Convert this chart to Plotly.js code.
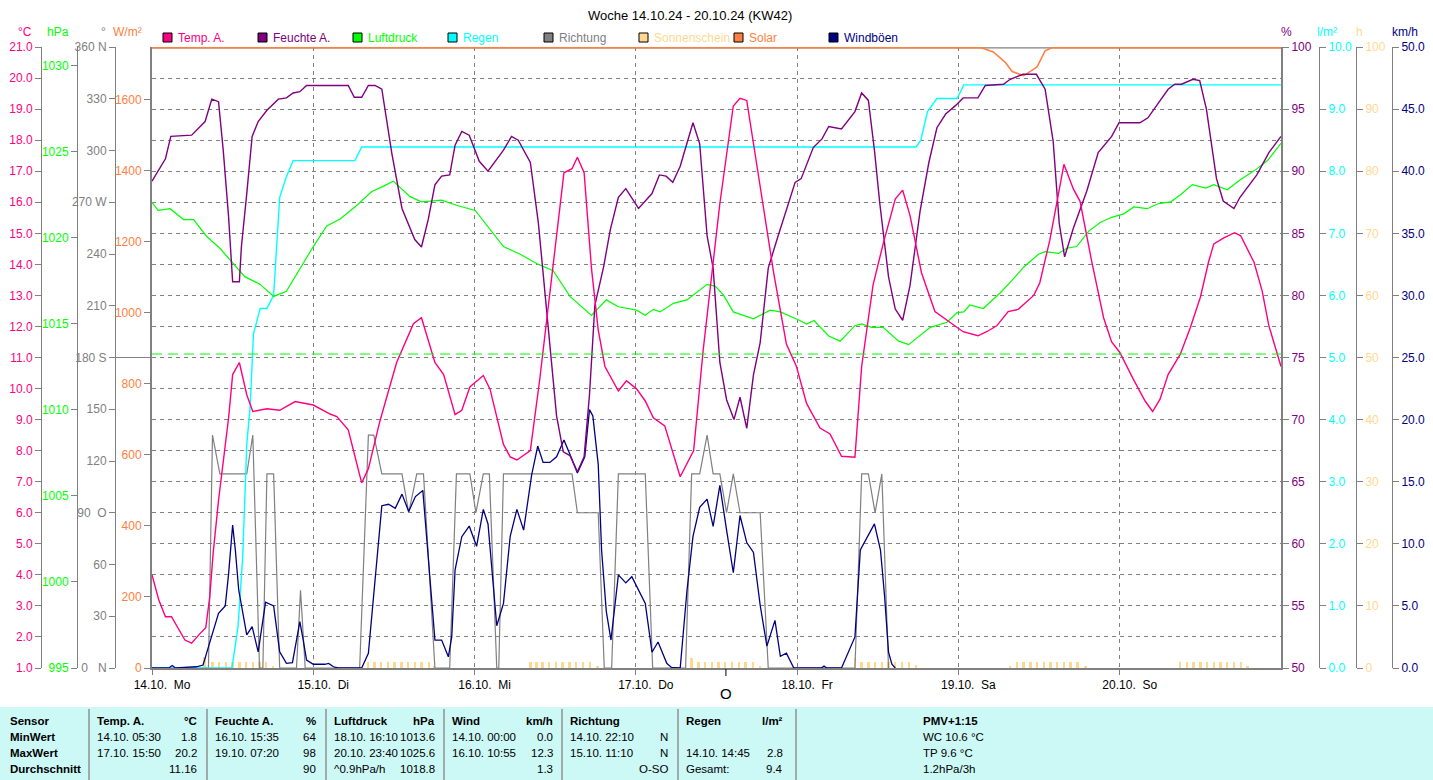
<!DOCTYPE html>
<html><head><meta charset="utf-8">
<script src="https://cdn.plot.ly/plotly-3.0.1.min.js"></script>
<style>html,body{margin:0;padding:0;background:#fff;overflow:hidden}#chart{width:1433px;height:780px}</style>
</head><body><div id="chart"></div>
<script>
// ---------------- DATA (hours since 14.10.24 00:00) ----------------
const dayTicks = [0, 24, 48, 72, 96, 120, 144];
const dayLabels = ['14.10.  Mo', '15.10.  Di', '16.10.  Mi', '17.10.  Do', '18.10.  Fr', '19.10.  Sa', '20.10.  So'];

const tempHours = [0, 1, 2, 2.9, 4.9, 5.9, 7.1, 8.0, 8.6, 9.1,
  9.9, 10.8, 11.4, 12.0, 13.0, 14.1, 15.0, 17.1, 19.0, 21.3,
  24.0, 26.5, 27.5, 29.2, 31.2, 32.2, 33.9, 36.4, 38.9, 40.1,
  42.1, 43.4, 45.1, 46.1, 47.3, 49.3, 50.3, 52.3, 53.3, 54.3,
  56.3, 57.7, 59.0, 60.0, 61.3, 62.5, 63.3, 64.3, 65.4, 66.4,
  67.4, 69.4, 70.6, 72.1, 73.4, 74.6, 76.3, 78.6, 80.6, 82.0,
  84.5, 86.5, 87.5, 88.5, 90.5, 92.5, 94.4, 95.9, 97.4, 99.4,
  100.9, 102.6, 104.6, 105.6, 107.3, 108.8, 110.6, 111.7, 112.8, 114.5,
  116.5, 118.5, 120.7, 122.9, 124.2, 125.7, 127.4, 128.9, 131.2, 132.1,
  133.6, 135.7, 137.1, 138.1, 139.8, 141.6, 142.8, 144.0, 146.0, 147.8,
  148.9, 150.0, 151.2, 153.0, 154.5, 156.0, 157.2, 158.0, 159.5, 161.1,
  162.0, 164.0, 165.2, 166.2, 168.0];
const tempValues = [4.0, 3.2, 2.65, 2.65, 1.9, 1.8, 2.1, 2.3, 3.3, 4.7,
  6.4, 8.1, 9.06, 10.45, 10.84, 9.8, 9.26, 9.35, 9.3, 9.58,
  9.47, 9.18, 9.1, 8.67, 6.96, 7.42, 8.94, 10.84, 12.09, 12.28,
  10.84, 10.45, 9.16, 9.3, 10.05, 10.42, 9.98, 8.2, 7.8, 7.7,
  8.0, 10.3, 12.7, 14.66, 16.95, 17.08, 17.45, 16.95, 13.86, 11.89,
  10.71, 9.92, 10.25, 9.99, 9.6, 9.06, 8.8, 7.16, 8.0, 11.2,
  15.96, 19.1, 19.35, 19.28, 16.5, 13.73, 11.43, 10.71, 9.52, 8.73,
  8.54, 7.82, 7.79, 10.71, 13.34, 14.66, 16.1, 16.39, 15.57, 13.73,
  12.48, 12.16, 11.83, 11.7, 11.83, 12.02, 12.48, 12.55, 13.0, 13.4,
  14.78, 17.22, 16.43, 16.03, 14.13, 12.28, 11.5, 11.17, 10.31, 9.59,
  9.26, 9.66, 10.45, 11.1, 11.96, 12.94, 14.06, 14.66, 14.85, 15.02,
  14.92, 14.06, 13.14, 12.02, 10.71];

const humHours = [0, 0.9, 2.0, 2.8, 5.9, 7.9, 8.9, 9.9, 10.6, 11.4,
  12.0, 13.0, 13.3, 14.1, 14.9, 15.8, 17.1, 18.8, 20.0, 21.0,
  22.0, 23.0, 29.2, 30.1, 31.2, 32.2, 33.2, 34.2, 35.7, 37.2,
  39.1, 40.1, 41.1, 42.1, 43.1, 44.3, 45.1, 46.1, 47.2, 48.7,
  50.0, 52.3, 53.5, 54.5, 56.3, 57.5, 59.0, 60.2, 61.2, 62.2,
  63.3, 64.3, 65.1, 65.9, 67.2, 68.2, 69.4, 70.5, 72.4, 74.4,
  75.5, 76.5, 77.5, 78.6, 80.5, 81.5, 82.6, 83.5, 84.5, 85.5,
  86.6, 87.5, 88.5, 89.5, 90.5, 91.7, 93.0, 94.4, 95.7, 96.6,
  98.4, 99.7, 100.7, 102.6, 104.6, 105.6, 106.6, 107.5, 108.3, 109.6,
  110.6, 111.7, 112.8, 114.3, 115.6, 116.8, 118.1, 119.6, 120.7, 122.9,
  124.0, 126.7, 127.7, 129.6, 131.6, 132.9, 134.1, 135.0, 135.8, 137.1,
  139.1, 140.8, 142.8, 143.9, 147.0, 148.2, 151.2, 152.2, 153.2, 154.9,
  155.9, 156.9, 158.4, 159.4, 161.0, 161.9, 164.4, 166.2, 168.0];
const humValues = [89.2, 90.0, 91.0, 92.8, 92.9, 94.0, 95.8, 95.6, 91.7, 86.3,
  81.1, 81.1, 83.9, 88.2, 92.8, 94.0, 94.9, 95.8, 95.9, 96.3,
  96.4, 96.9, 96.9, 95.95, 95.95, 96.9, 96.9, 96.6, 91.4, 87.0,
  84.5, 83.9, 86.1, 88.9, 89.6, 89.7, 92.1, 93.2, 92.9, 90.8,
  90.0, 91.7, 92.8, 92.5, 90.7, 85.8, 77.0, 70.3, 67.4, 67.1,
  65.8, 67.0, 72.0, 79.2, 82.3, 85.3, 87.9, 88.6, 87.0, 88.2,
  89.7, 89.6, 89.1, 90.4, 93.9, 92.2, 84.8, 82.2, 74.6, 71.6,
  70.0, 71.8, 69.3, 73.6, 76.2, 82.2, 84.5, 86.8, 89.1, 89.4,
  91.9, 92.6, 93.6, 93.4, 94.8, 96.3, 95.7, 91.7, 87.4, 81.5,
  78.9, 78.0, 80.8, 86.8, 90.7, 93.5, 94.6, 95.3, 95.9, 95.9,
  96.9, 97.0, 97.4, 97.8, 97.8, 96.6, 92.4, 85.8, 83.1, 85.4,
  88.4, 91.5, 92.8, 93.9, 93.9, 94.3, 96.6, 97.0, 97.0, 97.4,
  97.3, 95.0, 89.4, 87.6, 87.0, 87.9, 89.7, 91.5, 92.8];

const presHours = [0, 0.9, 2.7, 4.7, 6.2, 8.1, 10.1, 11.9, 13.8, 16.1,
  18.1, 20.0, 21.5, 24.0, 26.0, 28.0, 30.5, 32.7, 34.4, 35.9,
  38.4, 40.1, 43.1, 45.3, 48.1, 50.3, 52.3, 54.8, 57.3, 59.7,
  62.2, 65.4, 67.6, 69.4, 72.1, 73.4, 74.6, 75.6, 77.6, 79.6,
  82.6, 83.8, 85.0, 86.5, 89.5, 92.0, 93.5, 96.4, 97.4, 98.5,
  100.7, 102.4, 104.6, 105.6, 107.1, 108.8, 111.1, 112.6, 114.6, 115.8,
  118.3, 119.8, 120.8, 121.7, 123.7, 126.2, 127.9, 129.7, 131.9, 132.9,
  134.9, 136.1, 137.6, 139.4, 141.1, 142.8, 144.6, 146.1, 148.1, 149.8,
  151.6, 153.0, 154.8, 156.8, 158.0, 160.0, 162.0, 164.0, 166.0, 168.0];
const presValues = [1022.07, 1021.6, 1021.7, 1021.07, 1021.07, 1020.1, 1019.4, 1018.6, 1017.75, 1017.3,
  1016.6, 1016.9, 1017.9, 1019.5, 1020.7, 1021.1, 1021.9, 1022.7, 1023.0, 1023.3,
  1022.4, 1022.1, 1022.2, 1021.9, 1021.6, 1020.5, 1019.5, 1019.05, 1018.5, 1018.1,
  1016.6, 1015.5, 1016.4, 1016.0, 1015.8, 1015.5, 1015.85, 1015.7, 1016.2, 1016.4,
  1017.3, 1017.2, 1016.7, 1015.7, 1015.3, 1015.8, 1015.7, 1015.2, 1015.0, 1015.2,
  1014.3, 1014.0, 1014.9, 1015.0, 1014.8, 1014.8, 1014.0, 1013.8, 1014.4, 1014.8,
  1015.1, 1015.66, 1015.7, 1016.1, 1015.9, 1016.8, 1017.5, 1018.3, 1019.05, 1019.2,
  1019.1, 1019.4, 1019.5, 1020.4, 1020.9, 1021.2, 1021.4, 1021.8, 1021.7, 1022.0,
  1022.1, 1022.5, 1023.1, 1022.9, 1023.1, 1022.8, 1023.4, 1023.9, 1024.5, 1025.5];
const stdPressure = 1013.25;

const rainHours = [0, 11.9, 12.8, 13.5, 14.1, 14.6, 15.1, 16.1, 17.1, 18.1, 19.0,
  20.0, 21.0, 30.2, 31.2, 113.7, 114.4, 115.4, 116.8, 119.8, 120.8, 168.0];
const rainValues = [0, 0, 0.67, 1.79, 3.6, 4.2, 5.38, 5.79, 5.79, 6.0, 7.58,
  7.91, 8.17, 8.17, 8.39, 8.39, 8.5, 8.96, 9.17, 9.17, 9.39, 9.39];

const dirHours = [0, 8.4, 9.0, 10.1, 14.1, 15.0, 16.0, 16.5, 17.1, 18.1,
  19.0, 21.5, 22.1, 22.8, 30.9, 32.2, 33.0, 34.2, 37.2, 38.2,
  39.4, 40.4, 42.1, 44.3, 45.3, 47.3, 48.2, 49.3, 50.2, 51.3,
  51.6, 52.3, 62.5, 63.3, 66.4, 67.3, 68.4, 69.4, 73.4, 74.5,
  79.4, 80.3, 81.5, 82.6, 83.5, 84.5, 85.5, 86.5, 87.5, 90.5,
  91.7, 104.6, 105.6, 106.6, 107.6, 108.6, 109.6];
const dirValues = [0, 0, 135, 112.5, 112.5, 135, 0, 0, 112.5, 112.5,
  0, 0, 45, 0, 0, 135, 135, 112.5, 112.5, 90,
  112.5, 112.5, 0, 0, 112.5, 112.5, 90, 112.5, 112.5, 0,
  0, 112.5, 112.5, 90, 90, 0, 0, 112.5, 112.5, 0,
  0, 112.5, 112.5, 135, 112.5, 112.5, 90, 112.5, 90, 90,
  0, 0, 112.5, 112.5, 90, 112.5, 0];
const dirTickVals = [0, 30, 60, 90, 120, 150, 180, 210, 240, 270, 300, 330, 360];
const dirTickText = ['0   N', '30', '60', '90  O', '120', '150', '180 S', '210', '240', '270 W', '300', '330', '360 N'];

const sunHours = [7.8, 9.0, 10.0, 11.0, 12.0, 13.0, 14.0, 15.0, 16.0, 17.0, 18.0,
  32.1, 33.1, 34.1, 35.1, 36.1, 37.1, 38.1, 39.1, 40.1, 41.2, 42.0,
  56.3, 57.2, 58.1, 59.1, 60.1, 61.1, 62.1, 63.1, 64.1, 65.2, 66.3,
  80.3, 81.3, 82.3, 83.3, 84.3, 85.3, 86.3, 87.3, 88.3, 89.4, 90.5,
  104.6, 105.6, 106.6, 107.6, 108.6, 109.6, 110.6, 111.6, 112.6, 113.7,
  127.7, 128.7, 129.7, 130.7, 131.7, 132.7, 133.7, 134.7, 135.7, 136.7, 137.7, 138.9,
  153.0, 154.0, 155.0, 156.0, 157.0, 158.0, 159.0, 160.0, 161.0, 162.0, 163.0];
const sunValues = [1.7, 0.9, 0.9, 0.9, 0.9, 0.9, 0.9, 0.9, 0.9, 0.9, 0.35,
  0.9, 0.9, 0.9, 0.9, 0.9, 0.9, 0.9, 0.9, 0.9, 0.9, 0.35,
  0.9, 0.9, 0.9, 0.9, 0.9, 0.9, 0.9, 0.9, 0.9, 0.9, 0.35,
  1.6, 0.9, 0.9, 0.9, 0.9, 0.9, 0.9, 0.9, 0.9, 0.9, 0.35,
  1.6, 0.9, 0.9, 0.9, 0.9, 0.9, 0.9, 0.9, 0.9, 0.5,
  0.35, 0.9, 0.9, 0.9, 0.9, 0.9, 0.9, 0.9, 0.9, 0.9, 0.9, 0.35,
  0.9, 0.9, 0.9, 0.9, 0.9, 0.9, 0.9, 0.9, 0.9, 0.9, 0.35];

const solarHours = [0, 123.4, 125.2, 127.0, 128.0, 129.7, 131.7, 132.9, 133.9, 168.0];
const solarValues = [1747, 1747, 1735, 1705, 1680, 1668, 1693, 1738, 1747, 1747];

const windHours = [0, 2.5, 3.0, 3.5, 6.6, 7.6, 8.4, 9.9, 10.9, 11.4,
  12.0, 12.4, 12.9, 14.1, 14.9, 15.8, 16.9, 18.1, 19.0, 20.0,
  20.9, 22.0, 22.5, 23.0, 24.0, 25.7, 26.3, 27.0, 27.7, 31.2,
  32.2, 33.4, 34.2, 35.2, 36.2, 37.2, 38.2, 39.2, 40.3, 40.9,
  41.6, 42.1, 43.1, 44.1, 44.6, 45.1, 46.1, 47.2, 48.3, 49.3,
  50.0, 50.6, 51.3, 52.3, 53.3, 54.3, 55.3, 56.5, 57.4, 58.2,
  59.2, 60.2, 61.3, 62.2, 63.3, 64.4, 65.1, 65.6, 66.4, 66.9,
  67.6, 68.3, 69.4, 70.5, 71.4, 73.4, 74.4, 75.3, 76.6, 77.3,
  78.6, 79.6, 80.5, 81.5, 82.6, 83.5, 84.5, 85.5, 86.5, 87.5,
  88.5, 89.5, 90.5, 91.5, 92.7, 93.5, 94.4, 95.5, 99.6, 100.0,
  100.4, 102.6, 104.6, 105.4, 107.5, 108.4, 109.0, 109.6, 110.1, 110.6];
const windValues = [0, 0, 0.2, 0, 0.1, 0.24, 1.7, 4.4, 5.0, 7.6,
  11.5, 9.5, 6.3, 2.66, 3.33, 1.3, 5.3, 5.0, 1.3, 0.37,
  0.43, 3.73, 2.25, 0.64, 0.3, 0.3, 0.37, 0.1, 0, 0,
  1.18, 8.16, 13.07, 13.18, 12.86, 14.0, 12.6, 13.8, 14.3, 10.3,
  5.5, 2.25, 2.25, 0.9, 2.5, 7.9, 10.57, 11.43, 9.8, 12.77,
  11.6, 7.8, 3.4, 5.2, 10.6, 12.77, 11.1, 15.56, 17.87, 16.55,
  16.55, 17.0, 18.36, 17.2, 15.7, 17.0, 20.8, 20.3, 16.4, 9.5,
  4.56, 2.25, 7.5, 6.85, 7.35, 5.2, 1.27, 2.09, 0.38, 0.05,
  0, 6.2, 10.6, 12.94, 13.6, 11.4, 14.7, 11.1, 7.67, 12.28,
  10.1, 9.3, 5.05, 1.76, 3.83, 0.94, 1.2, 0, 0, 0.15,
  0, 0, 2.5, 9.5, 11.6, 9.5, 5.87, 1.27, 0.3, 0];

const moonHour = 85.4;

const legendNames = ['Temp. A.', 'Feuchte A.', 'Luftdruck', 'Regen', 'Richtung', 'Sonnenschein', 'Solar', 'Windböen'];
const unitLeft = ['°C', 'hPa', '°', 'W/m²'];
const unitRight = ['%', 'l/m²', 'h', 'km/h'];

const tableRowLabels = ['Sensor', 'MinWert', 'MaxWert', 'Durchschnitt'];
const tableLeftTexts = [
  ['Temp. A.', '14.10. 05:30', '17.10. 15:50', ''],
  ['Feuchte A.', '16.10. 15:35', '19.10. 07:20', ''],
  ['Luftdruck', '18.10. 16:10', '20.10. 23:40', '^0.9hPa/h'],
  ['Wind', '14.10. 00:00', '16.10. 10:55', ''],
  ['Richtung', '14.10. 22:10', '15.10. 11:10', ''],
  ['Regen', '', '14.10. 14:45', 'Gesamt:']
];
const tableRightTexts = [
  ['°C', '1.8', '20.2', '11.16'],
  ['%', '64', '98', '90'],
  ['hPa', '1013.6', '1025.6', '1018.8'],
  ['km/h', '0.0', '12.3', '1.3'],
  ['', 'N', 'N', 'O-SO'],
  ['l/m²', '', '2.8', '9.4']
];
const pmvLines = ['PMV+1:15', 'WC 10.6 °C', 'TP 9.6 °C', '1.2hPa/3h'];
const titleText = 'Woche 14.10.24 - 20.10.24 (KW42)';

// ---------------- STYLE / LAYOUT ----------------
const W = 1433, H = 780;
const FONT = 'Liberation Sans, Arial, sans-serif';
const TFONT = 'Liberation Sans, Arial, sans-serif';
const PX = v => v / W;
const PY = v => 1 - v / H;
const C = {
  temp: '#ff0080', hum: '#800080', pres: '#00ff00', rain: '#00ffff',
  dir: '#808080', sun: '#ffd890', solar: '#ff8040', wind: '#000080'
};
const legendColors = [C.temp, C.hum, C.pres, C.rain, C.dir, C.sun, C.solar, C.wind];
const legendX = [163, 258, 353, 448, 544, 639, 734, 829];
const yDom = [PY(668), PY(47)];
const xDom = [PX(152), PX(1281)];
const GRAY = '#808080';

function ax(color, extra) {
  return Object.assign({
    domain: yDom, showgrid: false, zeroline: false, showline: true,
    linecolor: GRAY, linewidth: 1, ticks: 'outside', ticklen: 6,
    tickcolor: GRAY, tickwidth: 1, fixedrange: true,
    tickfont: { family: FONT, size: 12, color: color }
  }, extra);
}

const traces = [
  { type: 'bar', x: sunHours, y: sunValues, xaxis: 'x', yaxis: 'y', width: 0.35,
    marker: { color: C.sun, line: { width: 0 } }, hoverinfo: 'skip' },
  { type: 'scatter', mode: 'lines', x: dirHours, y: dirValues, yaxis: 'y2',
    line: { color: C.dir, width: 1.2 }, hoverinfo: 'skip' },
  { type: 'scatter', mode: 'lines', x: rainHours, y: rainValues, yaxis: 'y3',
    line: { color: C.rain, width: 1.4 }, hoverinfo: 'skip' },
  { type: 'scatter', mode: 'lines', x: presHours, y: presValues, yaxis: 'y4',
    line: { color: C.pres, width: 1.2 }, hoverinfo: 'skip' },
  { type: 'scatter', mode: 'lines', x: solarHours, y: solarValues, yaxis: 'y5',
    line: { color: C.solar, width: 1.5 }, hoverinfo: 'skip' },
  { type: 'scatter', mode: 'lines', x: windHours, y: windValues, yaxis: 'y6',
    line: { color: C.wind, width: 1.3 }, hoverinfo: 'skip' },
  { type: 'scatter', mode: 'lines', x: humHours, y: humValues, yaxis: 'y7',
    line: { color: C.hum, width: 1.4 }, hoverinfo: 'skip' },
  { type: 'scatter', mode: 'lines', x: tempHours, y: tempValues, yaxis: 'y8',
    line: { color: C.temp, width: 1.4 }, hoverinfo: 'skip' }
];

const shapes = [];
const annotations = [];

// table background & separators
shapes.push({ type: 'rect', xref: 'paper', yref: 'paper', x0: 0, x1: 1, y0: PY(780), y1: PY(707),
  fillcolor: '#ccf8f6', line: { width: 0 }, layer: 'below' });
[89, 207, 326, 444, 562, 678, 796].forEach(x => shapes.push({ type: 'line', xref: 'paper', yref: 'paper',
  x0: PX(x), x1: PX(x), y0: PY(780), y1: PY(709), line: { color: '#909090', width: 1.5 } }));
// pressure reference line
shapes.push({ type: 'line', xref: 'x', yref: 'y4', x0: 0, x1: 168, y0: stdPressure, y1: stdPressure,
  line: { color: C.pres, width: 1, dash: '10px,6px' } });
// extended 180 S mark
shapes.push({ type: 'line', xref: 'paper', yref: 'y2', x0: PX(116), x1: PX(152), y0: 180, y1: 180,
  line: { color: GRAY, width: 1 } });
// top frame
shapes.push({ type: 'line', xref: 'paper', yref: 'paper', x0: xDom[0], x1: xDom[1], y0: PY(47.9), y1: PY(47.9),
  line: { color: GRAY, width: 1.3 }, layer: 'below' });
// moon tick
shapes.push({ type: 'line', xref: 'x', yref: 'paper', x0: moonHour, x1: moonHour, y0: PY(669), y1: PY(676),
  line: { color: '#000', width: 1 } });
annotations.push({ xref: 'x', yref: 'paper', x: moonHour, y: PY(693), text: 'O', showarrow: false,
  xanchor: 'center', yanchor: 'middle', font: { family: FONT, size: 15, color: '#000' } });

// legend
legendNames.forEach((n, i) => {
  shapes.push({ type: 'rect', xref: 'paper', yref: 'paper', x0: PX(legendX[i]), x1: PX(legendX[i] + 9),
    y0: PY(42), y1: PY(33), fillcolor: legendColors[i], line: { color: '#000', width: 1 } });
  annotations.push({ xref: 'paper', yref: 'paper', x: PX(legendX[i] + 13), y: PY(37.5), text: n,
    showarrow: false, xanchor: 'left', yanchor: 'middle',
    font: { family: FONT, size: 12, color: legendColors[i] } });
});
// title
annotations.push({ xref: 'paper', yref: 'paper', x: PX(690), y: PY(15), text: titleText, showarrow: false,
  xanchor: 'center', yanchor: 'middle', font: { family: FONT, size: 13, color: '#000' } });
// unit labels
const unitLeftX = [25, 58, 103, 128];
const unitLeftC = [C.temp, C.pres, GRAY, C.solar];
unitLeft.forEach((u, i) => annotations.push({ xref: 'paper', yref: 'paper', x: PX(unitLeftX[i]), y: PY(32),
  text: u, showarrow: false, xanchor: 'center', yanchor: 'middle', font: { family: FONT, size: 12, color: unitLeftC[i] } }));
const unitRightX = [1286, 1327, 1359, 1405];
const unitRightC = [C.hum, C.rain, C.sun, C.wind];
unitRight.forEach((u, i) => annotations.push({ xref: 'paper', yref: 'paper', x: PX(unitRightX[i]), y: PY(32),
  text: u, showarrow: false, xanchor: 'center', yanchor: 'middle', font: { family: FONT, size: 12, color: unitRightC[i] } }));

// table text
const rowY = [721, 737, 753, 769];
const colL = [95, 213, 332, 450, 568, 684];
const colR = [199, 318, 437, 555, 670, 785];
function tAnn(x, y, text, anchor, bold) {
  annotations.push({ xref: 'paper', yref: 'paper', x: PX(x), y: PY(y), text: bold ? '<b>' + text + '</b>' : text,
    showarrow: false, xanchor: anchor, yanchor: 'middle', font: { family: TFONT, size: 11.5, color: '#000' } });
}
tableRowLabels.forEach((t, r) => tAnn(8, rowY[r], t, 'left', true));
tableLeftTexts.forEach((col, c) => col.forEach((t, r) => { if (t) tAnn(colL[c], rowY[r], t, 'left', r === 0); }));
tableRightTexts.forEach((col, c) => col.forEach((t, r) => { if (t) tAnn(colR[c], rowY[r], t, 'right', r === 0); }));
pmvLines.forEach((t, r) => tAnn(921, rowY[r], t, 'left', r === 0));

const layout = {
  width: W, height: H, margin: { l: 0, r: 0, t: 0, b: 0, pad: 0 },
  paper_bgcolor: '#fff', plot_bgcolor: '#fff', showlegend: false, hovermode: false,
  bargap: 0,
  xaxis: {
    domain: xDom, range: [0, 168], anchor: 'y', fixedrange: true,
    tickmode: 'array', tickvals: dayTicks, ticktext: dayLabels, ticklabelshift: 10,
    ticks: 'outside', ticklen: 5, tickcolor: GRAY, showline: true, linecolor: GRAY, linewidth: 2,
    showgrid: true, gridcolor: GRAY, griddash: '4px,4px', gridwidth: 1, zeroline: false,
    tickfont: { family: FONT, size: 12, color: '#000' }
  },
  yaxis: ax(C.sun, {
    range: [0, 100], anchor: 'free', position: PX(1356), side: 'right',
    tickmode: 'linear', tick0: 0, dtick: 10,
    showgrid: true, gridcolor: GRAY, griddash: '4px,4px', gridwidth: 1,
    minor: { tick0: 0, dtick: 5, showgrid: true, gridcolor: GRAY, griddash: '4px,4px', gridwidth: 1, ticks: '' }
  }),
  yaxis2: ax(GRAY, { range: [0, 360], anchor: 'free', position: PX(115), side: 'left', overlaying: 'y',
    tickmode: 'array', tickvals: dirTickVals, ticktext: dirTickText }),
  yaxis3: ax(C.rain, { range: [0, 10], anchor: 'free', position: PX(1319), side: 'right', overlaying: 'y',
    tickmode: 'linear', tick0: 0, dtick: 1, tickformat: '.1f' }),
  yaxis4: ax(C.pres, { range: [995, 1031.1], anchor: 'free', position: PX(77), side: 'left', overlaying: 'y',
    tickmode: 'linear', tick0: 995, dtick: 5, tickformat: 'd' }),
  yaxis5: ax(C.solar, { range: [0, 1749], anchor: 'x', side: 'left', overlaying: 'y', linewidth: 2,
    tickmode: 'linear', tick0: 0, dtick: 200, tickformat: 'd' }),
  yaxis6: ax(C.wind, { range: [0, 50], anchor: 'free', position: PX(1392), side: 'right', overlaying: 'y',
    tickmode: 'linear', tick0: 0, dtick: 5, tickformat: '.1f' }),
  yaxis7: ax(C.hum, { range: [50, 100], anchor: 'x', side: 'right', overlaying: 'y', linewidth: 2,
    tickmode: 'linear', tick0: 50, dtick: 5, tickformat: 'd' }),
  yaxis8: ax(C.temp, { range: [1, 21], anchor: 'free', position: PX(41), side: 'left', overlaying: 'y',
    tickmode: 'linear', tick0: 1, dtick: 1, tickformat: '.1f' }),
  shapes: shapes,
  annotations: annotations
};

Plotly.newPlot('chart', traces, layout, { displayModeBar: false, staticPlot: true });
</script></body></html>
